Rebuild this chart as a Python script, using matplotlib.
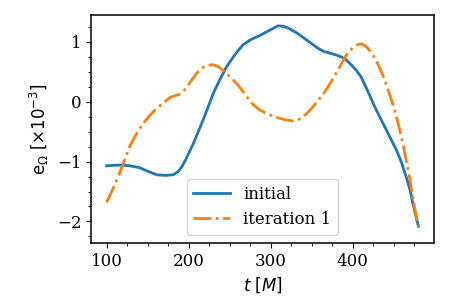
import matplotlib
matplotlib.use('Agg')
import matplotlib.pyplot as plt
from matplotlib.ticker import MultipleLocator

plt.rcParams['font.family'] = 'DejaVu Serif'
plt.rcParams['mathtext.fontset'] = 'dejavusans'

# initial
t_init = [100, 110, 120, 128, 140, 150, 161, 172, 181, 187, 192, 197, 205, 213, 220, 230,
          238, 246, 256, 266, 276, 287, 298, 309, 316, 323, 333, 343, 350, 358, 365,
          370, 378, 386, 392, 398, 404, 410, 417, 425, 432, 439, 446, 453, 459, 465,
          470, 473, 476, 480]
e_init = [-1.07, -1.06, -1.06, -1.07, -1.1, -1.16, -1.22, -1.23, -1.22, -1.17, -1.08, -0.95, -0.72, -0.46, -0.22, 0.14,
          0.37, 0.58, 0.78, 0.95, 1.04, 1.11, 1.19, 1.27, 1.26, 1.22, 1.14, 1.04, 0.97, 0.89, 0.84,
          0.82, 0.79, 0.75, 0.7, 0.62, 0.53, 0.42, 0.22, -0.03, -0.23, -0.42, -0.61, -0.8, -1.0, -1.25,
          -1.48, -1.68, -1.86, -2.08]

# iteration 1
t_it1 = [100, 108, 116, 122, 128, 135, 143, 152, 161, 170, 177, 183, 188, 193, 197, 203,
         210, 217, 224, 230, 237, 244, 253, 262, 270, 278, 287, 297, 307, 317, 327, 335,
         343, 350, 357, 364, 370, 376, 382, 388, 394, 400, 405, 410, 416, 421, 427, 433,
         439, 445, 451, 456, 461, 465, 469, 472, 475, 478, 480]
e_it1 = [-1.68, -1.45, -1.19, -0.97, -0.75, -0.57, -0.39, -0.24, -0.11, -0.01, 0.07, 0.1, 0.12, 0.17, 0.23, 0.35,
         0.48, 0.57, 0.61, 0.62, 0.58, 0.5, 0.38, 0.25, 0.1, -0.04, -0.14, -0.21, -0.26, -0.3, -0.32, -0.29,
         -0.21, -0.11, 0.01, 0.13, 0.25, 0.39, 0.53, 0.68, 0.82, 0.9, 0.95, 0.97, 0.93, 0.85, 0.73, 0.56,
         0.36, 0.12, -0.14, -0.4, -0.69, -0.97, -1.25, -1.5, -1.75, -1.95, -2.08]

fig = plt.figure(figsize=(4.57, 3.05), dpi=100)
ax = fig.add_axes([91 / 457, 1 - 243 / 305, 343 / 457, 228 / 305])

ax.plot(t_init, e_init, color='#1f77b4', lw=2, label='initial')
ax.plot(t_it1, e_it1, color='#ff7f0e', lw=2, ls='-.', label='iteration 1')

ax.set_ylim(-2.36, 1.45)
ax.xaxis.set_major_locator(MultipleLocator(100))
ax.xaxis.set_minor_locator(MultipleLocator(25))
ax.yaxis.set_major_locator(MultipleLocator(1))
ax.yaxis.set_minor_locator(MultipleLocator(0.25))
ax.tick_params(labelsize=12)
for s in ax.spines.values():
    s.set_linewidth(1.1)

ax.set_xlabel(r'$t\ [M]$', fontsize=12)
ax.set_ylabel(r'$\mathrm{e}_{\Omega}\ [\times10^{-3}]$', fontsize=12)
ax.legend(loc='lower center', fontsize=12, handlelength=2.2)

fig.savefig('out.png', dpi=100)
